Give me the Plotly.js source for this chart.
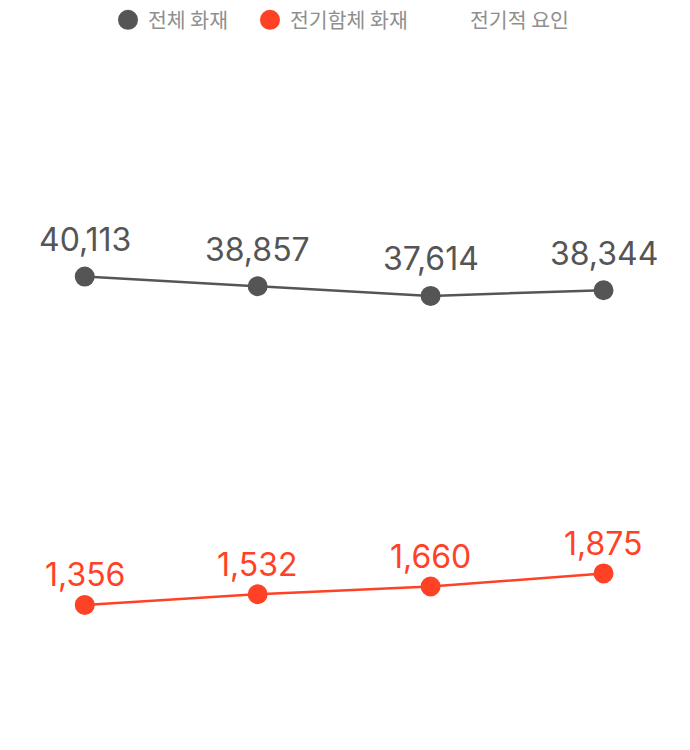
<!DOCTYPE html>
<html>
<head>
<meta charset="utf-8">
<script src="https://cdn.plot.ly/plotly-3.0.1.min.js"></script>
<style>
  html, body { margin: 0; padding: 0; background: #ffffff; }
  #chart { width: 690px; height: 750px; }
</style>
</head>
<body>
<div id="chart"></div>
<script>
// ---- data ----
const periods = ['2019', '2020', '2021', '2022'];
const totalFires = [40113, 38857, 37614, 38344];
const electricFires = [1356, 1532, 1660, 1875];
const seriesNames = ['전체 화재', '전기함체 화재', '전기적 요인'];

const GRAY = '#555555';
const RED = '#ff4226';
const LABEL_FONT = 'Inter, "Noto Sans", sans-serif';

function fmt(v) { return v.toLocaleString('en-US'); }

function lineTrace(y, color, axis) {
  return {
    x: periods, y: y, type: 'scatter', mode: 'lines',
    line: { color: color, width: 2.5 },
    showlegend: false, hoverinfo: 'skip', yaxis: axis
  };
}
function markerTrace(y, color, axis, name, lw) {
  return {
    x: periods, y: y, name: name, type: 'scatter', mode: 'markers',
    marker: { color: color, size: 16, line: { color: color, width: 4 } },
    legendwidth: lw, cliponaxis: false, hoverinfo: 'skip', yaxis: axis
  };
}

const traces = [
  lineTrace(totalFires, GRAY, 'y'),
  lineTrace(electricFires, RED, 'y2'),
  markerTrace(totalFires, GRAY, 'y', seriesNames[0], 97),
  markerTrace(electricFires, RED, 'y2', seriesNames[1], 135),
  {
    x: [periods[0]], y: [null], name: seriesNames[2],
    type: 'scatter', mode: 'markers',
    marker: { color: 'rgba(0,0,0,0)', size: 16 },
    legendwidth: 100, hoverinfo: 'skip'
  }
];

// value labels, positioned on the category axis (serial index) and the series' own y axis
function labels(vals, color, yref, shift) {
  return vals.map((v, i) => ({
    x: i, y: v, xref: 'x', yref: yref,
    text: fmt(v), showarrow: false,
    xanchor: 'center', yanchor: 'middle', yshift: shift,
    font: { family: LABEL_FONT, size: 32, color: color }
  }));
}

const layout = {
  width: 690, height: 750,
  margin: { l: 0, r: 0, t: 40, b: 40 },
  paper_bgcolor: '#ffffff', plot_bgcolor: '#ffffff',
  showlegend: true,
  legend: {
    orientation: 'h', x: 108 / 690, xanchor: 'left',
    yref: 'container', y: 1, yanchor: 'top',
    font: { family: '"Noto Sans CJK KR", sans-serif', size: 20.5, color: '#8f8f8f' },
    itemclick: false, itemdoubleclick: false
  },
  xaxis: { type: 'category', range: [-0.49, 3.5], visible: false, fixedrange: true },
  yaxis: { range: [-15958, 70718], visible: false, fixedrange: true },
  yaxis2: { range: [-375, 10663], visible: false, overlaying: 'y', fixedrange: true },
  annotations: labels(totalFires, GRAY, 'y', 37).concat(labels(electricFires, RED, 'y2', 30)),
  hovermode: false
};

Plotly.newPlot('chart', traces, layout, { displayModeBar: false, staticPlot: true });
</script>
</body>
</html>
